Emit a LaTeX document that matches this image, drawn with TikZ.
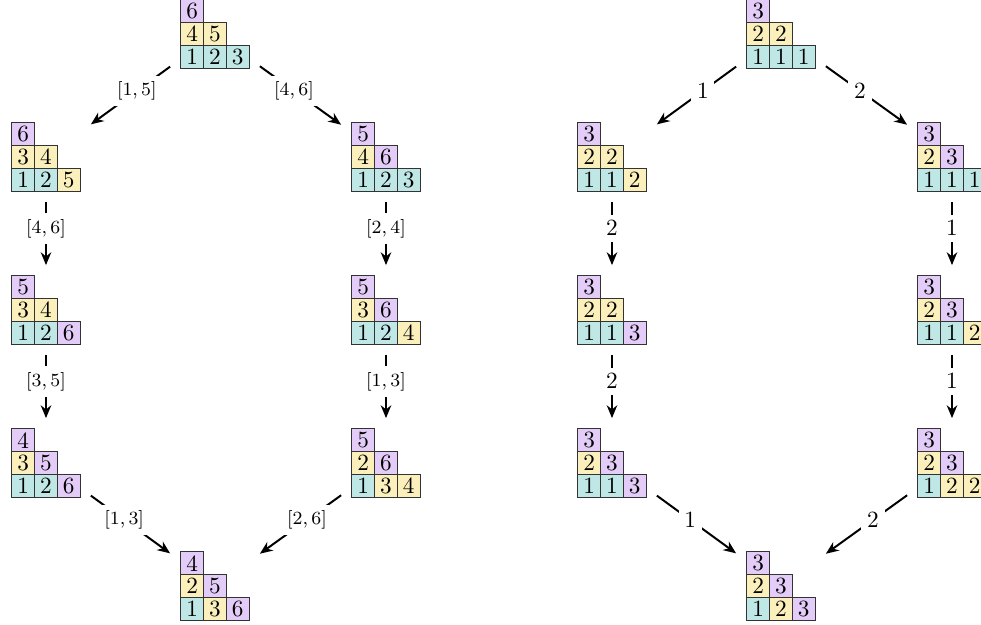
\documentclass[tikz,border=0pt]{standalone}
\usepackage{amsmath, amssymb}
\usepackage{tikz}
\usetikzlibrary{positioning, arrows.meta, calc}

\definecolor{Cell1}{RGB}{191,231,229}
\definecolor{Cell2}{RGB}{251,240,187}
\definecolor{Cell3}{RGB}{227,204,247}

\tikzstyle{cell} = [draw=black!80, line width=0.45pt, minimum size=9.76pt, inner sep=0pt, font=\normalsize]
\tikzstyle{tabbox} = [minimum size=29.2pt, inner sep=0pt, outer sep=4.7pt]
\tikzstyle{tabarrow} = [line width=0.85pt, -{Stealth[length=5.5pt, width=4.5pt]}]
\tikzstyle{edgelabel} = [fill=white, inner sep=2.5pt, pos=0.42]

% staircase tableau: name, centre, list value/colour (bottom row first)
\newcommand{\drawtab}[3]{%
  \node[tabbox] (#1) at (#2) {};
  \foreach \v/\k [count=\i from 0] in {#3}{
    \pgfmathsetmacro{\cx}{{-1,0,1,-1,0,-1}[\i]}
    \pgfmathsetmacro{\cy}{{-1,-1,-1,0,0,1}[\i]}
    \node[cell, fill=Cell\k] at ($(#1)+(\cx*22.7,\cy*22.7)$) {\v};
  }
}

\begin{document}
\begin{tikzpicture}[x=0.43pt, y=0.43pt]
\useasboundingbox (0,0) rectangle (981,625);

% standard tableaux
\drawtab{std0}{215,591}{1/1,2/1,3/1,4/2,5/2,6/3}
\drawtab{stdL1}{46,468}{1/1,2/1,5/2,3/2,4/2,6/3}
\drawtab{stdR1}{386,468}{1/1,2/1,3/1,4/2,6/3,5/3}
\drawtab{stdL2}{46,315}{1/1,2/1,6/3,3/2,4/2,5/3}
\drawtab{stdR2}{386,315}{1/1,2/1,4/2,3/2,6/3,5/3}
\drawtab{stdL3}{46,162}{1/1,2/1,6/3,3/2,5/3,4/3}
\drawtab{stdR3}{386,162}{1/1,3/2,4/2,2/2,6/3,5/3}
\drawtab{stdB}{215,39}{1/1,3/2,6/3,2/2,5/3,4/3}

\draw[tabarrow] (std0) -- node[edgelabel, font=\footnotesize] {$[1,5]$} (stdL1);
\draw[tabarrow] (std0) -- node[edgelabel, font=\footnotesize] {$[4,6]$} (stdR1);
\draw[tabarrow] (stdL1) -- node[edgelabel, font=\footnotesize] {$[4,6]$} (stdL2);
\draw[tabarrow] (stdR1) -- node[edgelabel, font=\footnotesize] {$[2,4]$} (stdR2);
\draw[tabarrow] (stdL2) -- node[edgelabel, font=\footnotesize] {$[3,5]$} (stdL3);
\draw[tabarrow] (stdR2) -- node[edgelabel, font=\footnotesize] {$[1,3]$} (stdR3);
\draw[tabarrow] (stdL3) -- node[edgelabel, font=\footnotesize] {$[1,3]$} (stdB);
\draw[tabarrow] (stdR3) -- node[edgelabel, font=\footnotesize] {$[2,6]$} (stdB);

% semistandard tableaux
\drawtab{ss0}{781,591}{1/1,1/1,1/1,2/2,2/2,3/3}
\drawtab{ssL1}{612,468}{1/1,1/1,2/2,2/2,2/2,3/3}
\drawtab{ssR1}{952,468}{1/1,1/1,1/1,2/2,3/3,3/3}
\drawtab{ssL2}{612,315}{1/1,1/1,3/3,2/2,2/2,3/3}
\drawtab{ssR2}{952,315}{1/1,1/1,2/2,2/2,3/3,3/3}
\drawtab{ssL3}{612,162}{1/1,1/1,3/3,2/2,3/3,3/3}
\drawtab{ssR3}{952,162}{1/1,2/2,2/2,2/2,3/3,3/3}
\drawtab{ssB}{781,39}{1/1,2/2,3/3,2/2,3/3,3/3}

\draw[tabarrow] (ss0) -- node[edgelabel] {$1$} (ssL1);
\draw[tabarrow] (ss0) -- node[edgelabel] {$2$} (ssR1);
\draw[tabarrow] (ssL1) -- node[edgelabel] {$2$} (ssL2);
\draw[tabarrow] (ssR1) -- node[edgelabel] {$1$} (ssR2);
\draw[tabarrow] (ssL2) -- node[edgelabel] {$2$} (ssL3);
\draw[tabarrow] (ssR2) -- node[edgelabel] {$1$} (ssR3);
\draw[tabarrow] (ssL3) -- node[edgelabel] {$1$} (ssB);
\draw[tabarrow] (ssR3) -- node[edgelabel] {$2$} (ssB);
\end{tikzpicture}
\end{document}
